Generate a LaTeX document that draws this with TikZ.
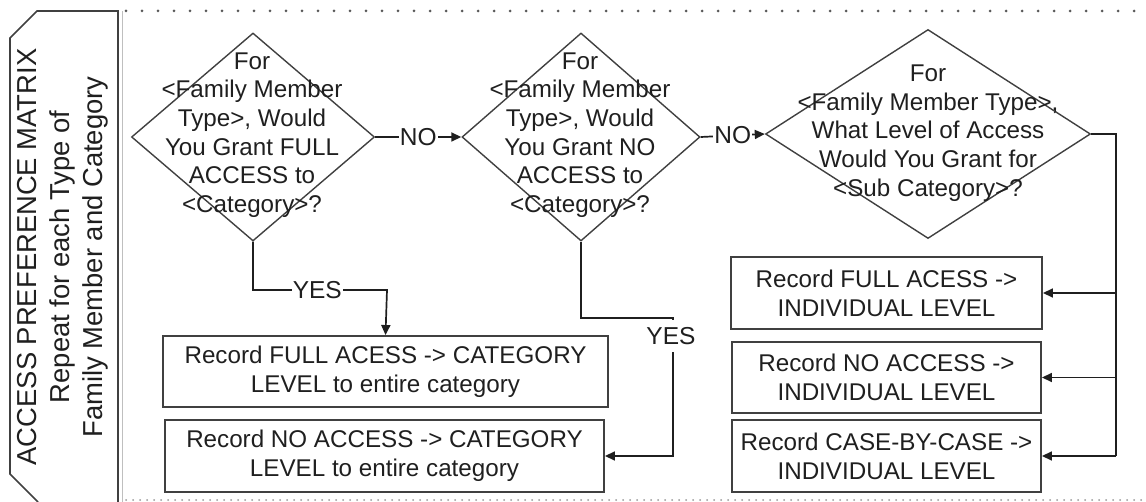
\documentclass[tikz,border=0pt]{standalone}
\usepackage{fontspec}
\setmainfont{Liberation Sans}
\usetikzlibrary{shapes.geometric,arrows.meta}
\tikzset{
  dia/.style={shape=diamond, draw=black!75, line width=1.4pt, inner sep=0pt},
  dtxt/.style={align=center, text=black!88, inner sep=0pt, font=\fontsize{24.2pt}{28.7pt}\selectfont},
  recbox/.style={draw=black!75, line width=1.9pt, align=center, inner sep=0pt, text=black!88,
    font=\fontsize{24.2pt}{29pt}\selectfont},
  conn/.style={draw=black!88, line width=1.7pt, -{Triangle[length=10pt,width=9pt]}},
  plain/.style={draw=black!88, line width=1.7pt},
  lbl/.style={fill=white, inner sep=1pt, text=black!88, font=\fontsize{24.5pt}{28pt}\selectfont},
  banner/.style={draw=black!75, line width=1.6pt},
  btxt/.style={align=center, text=black!88, rotate=90, inner sep=0pt, font=\fontsize{27.4pt}{33pt}\selectfont},
  topdots/.style={draw=black!65, line width=3pt, line cap=round, dash pattern=on 0pt off 16pt},
  botdots/.style={draw=black!40, line width=2pt, line cap=round, dash pattern=on 0pt off 7pt}
}
\begin{document}
\begin{tikzpicture}[x=1pt,y=-1pt]
\useasboundingbox (0,0) rectangle (1146,502);
% banner
\draw[banner] (118,502) -- (118,11) -- (37,11) -- (10,38) -- (10,474) -- (38,502);
\draw[draw=black!25, line width=0.8pt] (122,11) -- (122,502);
\node[btxt] (bt) at (63,257) {ACCESS PREFERENCE MATRIX\\Repeat for each Type of\\Family Member and Category};
% dotted borders
\draw[topdots] (126,11) -- (1146,11);
\draw[botdots] (126,500) -- (1146,500);
% diamonds
\node[dia, minimum width=243pt, minimum height=208pt] (d1) at (253,137) {};
\node[dtxt] (t1) at (252,135) {For\\<Family Member\\Type>, Would\\You Grant FULL\\ACCESS to\\<Category>?};
\node[dia, minimum width=238pt, minimum height=208pt] (d2) at (581,137) {};
\node[dtxt] (t2) at (580,135) {For\\<Family Member\\Type>, Would\\You Grant NO\\ACCESS to\\<Category>?};
\node[dia, minimum width=325pt, minimum height=209pt] (d3) at (928,134) {};
\node[dtxt] (t3) at (928,133) {For\\<Family Member Type>,\\What Level of Access\\Would You Grant for\\<Sub Category>?};
% boxes
\node[recbox, minimum width=445pt, minimum height=71pt] (L1) at (385.5,371.5) {Record FULL ACESS -> CATEGORY\\LEVEL to entire category};
\node[recbox, minimum width=439pt, minimum height=72pt] (L2) at (384.5,456) {Record NO ACCESS -> CATEGORY\\LEVEL to entire category};
\node[recbox, minimum width=311pt, minimum height=72pt] (R1) at (886.5,293) {Record FULL ACESS ->\\INDIVIDUAL LEVEL};
\node[recbox, minimum width=309pt, minimum height=71pt] (R2) at (886.5,377.5) {Record NO ACCESS ->\\INDIVIDUAL LEVEL};
\node[recbox, minimum width=309pt, minimum height=72pt] (R3) at (886.5,456) {Record CASE-BY-CASE ->\\INDIVIDUAL LEVEL};
% coordinates
\coordinate (y1) at (387,290);
\coordinate (y2a) at (673,318);
\coordinate (y2b) at (673,456);
\coordinate (bus) at (1116,134);
% connectors
\draw[conn] (d1.east) -- node[lbl] {NO} (d2.west);
\draw[conn] (d2.east) -- node[lbl] {NO} (d3.west);
\draw[conn] (d1.south) |- node[lbl, pos=0.74] {YES} (y1) -- (L1.north);
\draw[conn] (d2.south) |- (y2a) -- (y2b) -- (L2.east);
\node[lbl, minimum height=32pt] (yes2) at (671,336) {YES};
\draw[plain] (d3.east) -- (bus) -- (bus |- R3.east);
\draw[conn] (bus |- R1.east) -- (R1.east);
\draw[conn] (bus |- R2.east) -- (R2.east);
\draw[conn] (bus |- R3.east) -- (R3.east);
\end{tikzpicture}
\end{document}
